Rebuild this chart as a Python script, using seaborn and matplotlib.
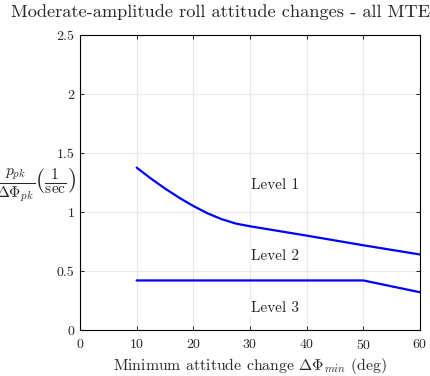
import matplotlib
matplotlib.use("Agg")
import matplotlib.pyplot as plt
import seaborn as sns
import pandas as pd

# Data
lvl1_x = [10, 12.5, 15, 17.5, 20, 22.5, 25, 27.5, 30, 40, 50, 60]
lvl1_y = [1.376, 1.284, 1.199, 1.121, 1.051, 0.989, 0.939, 0.902, 0.879, 0.80, 0.718, 0.64]
lvl2_x = [10, 50, 60]
lvl2_y = [0.42, 0.42, 0.32]
labels = ["Level 1", "Level 2", "Level 3"]
label_x = [34.4, 34.4, 34.4]
label_y = [1.23, 0.63, 0.185]
xticks = [0, 10, 20, 30, 40, 50, 60]
yticks = [0, 0.5, 1, 1.5, 2, 2.5]
ytick_labels = ["0", "0.5", "1", "1.5", "2", "2.5"]

sns.set_theme(style="whitegrid")
plt.rcParams.update({
    "font.family": "serif",
    "font.serif": ["cmr10"],
    "mathtext.fontset": "cm",
    "axes.formatter.use_mathtext": True,
    "axes.edgecolor": "black",
    "axes.linewidth": 0.8,
    "grid.color": "#e8e8e8",
    "grid.linewidth": 0.8,
    "xtick.direction": "in",
    "ytick.direction": "in",
})

fig = plt.figure(figsize=(4.3, 3.76), dpi=100)
ax = fig.add_axes([80/430, 46/376, 340/430, 295/376])

d1 = pd.DataFrame({"x": lvl1_x, "y": lvl1_y})
d2 = pd.DataFrame({"x": lvl2_x, "y": lvl2_y})
sns.lineplot(data=d1, x="x", y="y", ax=ax, color=(0, 0, 1), linewidth=1.6, sort=False)
sns.lineplot(data=d2, x="x", y="y", ax=ax, color=(0, 0, 1), linewidth=1.6, sort=False)

for t, xx, yy in zip(labels, label_x, label_y):
    ax.text(xx, yy, t, ha="center", va="center", fontsize=11,
            bbox=dict(facecolor="white", edgecolor="none", pad=1))

ax.set_xlim(0, 60)
ax.set_ylim(0, 2.5)
ax.set_xticks(xticks)
ax.set_yticks(yticks)
ax.set_yticklabels(ytick_labels)
ax.tick_params(labelsize=10, length=3, width=0.6, color="black", top=True, right=True,
               bottom=True, left=True)
ax.tick_params(axis="x", pad=5.5)
ax.tick_params(axis="y", pad=4)
for s in ax.spines.values():
    s.set_color("black")
    s.set_visible(True)

ax.set_xlabel(r"Minimum attitude change $\Delta\Phi_{min}$ (deg)", fontsize=11.4, labelpad=3)
ax.set_ylabel(r"$\frac{p_{pk}}{\Delta\Phi_{pk}}\left(\frac{1}{\mathrm{sec}}\right)$",
              fontsize=16, rotation=0, ha="right", va="center")
ax.yaxis.set_label_coords(-0.01, 0.49)
ax.set_title("Moderate-amplitude roll attitude changes - all MTEs", fontsize=13.2, pad=13,
             x=0.425)

fig.savefig("out.png", dpi=100)
